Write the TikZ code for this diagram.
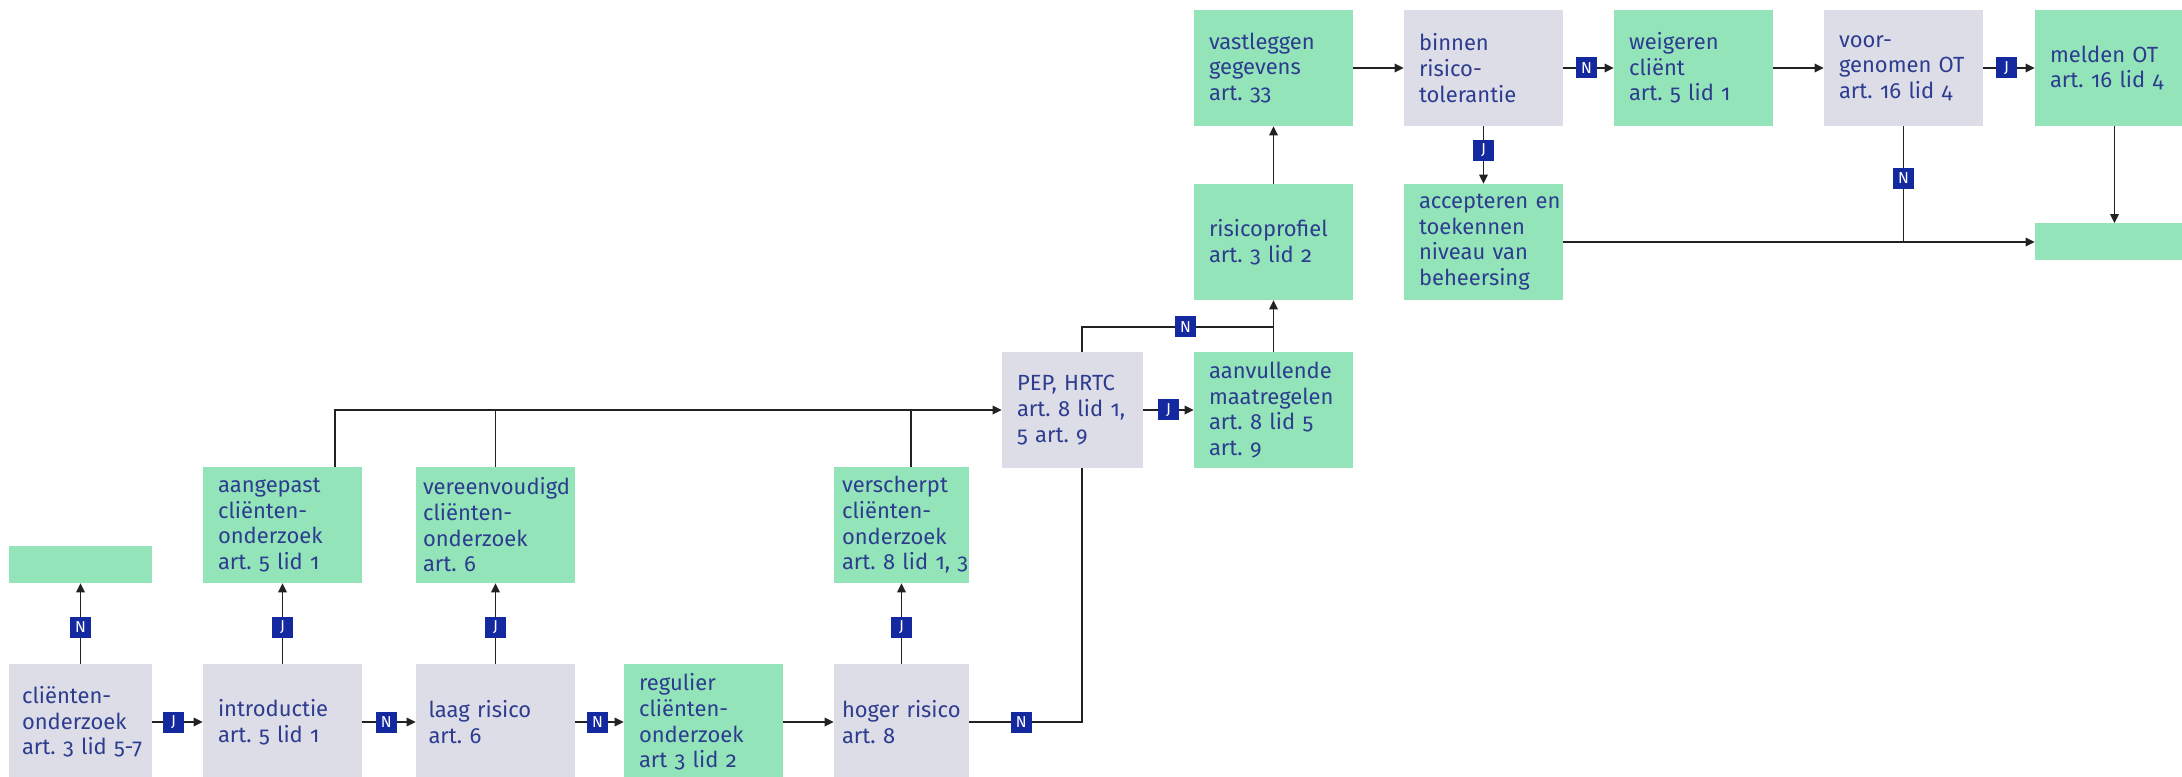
\documentclass[tikz,border=0pt]{standalone}
\usepackage{fontspec}
\setmainfont{Fira Sans}[Numbers=OldStyle]
\usetikzlibrary{arrows.meta}

\definecolor{grijsvak}{HTML}{DDDDE8}
\definecolor{groenvak}{HTML}{93E5B9}
\definecolor{tekstblauw}{HTML}{2D3C8E}
\definecolor{jnblauw}{HTML}{1428A0}
\definecolor{lijnkleur}{HTML}{222222}

\tikzset{
  blok/.style={inner xsep=0.3cm, inner ysep=0pt, text width=2.58cm, minimum height=2.32cm,
    align=left, text=tekstblauw, font=\fontsize{12.5}{14.6}\selectfont\frenchspacing},
  grijs/.style={blok, fill=grijsvak},
  groen/.style={blok, fill=groenvak},
  leeg/.style={groen, minimum height=0.74cm},
  jn/.style={fill=jnblauw, text=white, minimum size=0.42cm, inner sep=0pt,
    font=\fontsize{9}{9}\selectfont},
  lijntje/.style={draw=lijnkleur, line width=1pt},
  pijl/.style={lijntje, ->}
}

\begin{document}
\begin{tikzpicture}[>={Triangle[length=0.18cm,width=0.17cm]}]
    \useasboundingbox (0,0) rectangle (43.64,-15.54);
    \clip (0,0) rectangle (43.64,-15.54);

    % onderste rij
    \node[grijs, text width=2.34cm, inner xsep=0.26cm] (clo) at (1.61,-14.44) {cliënten-\\onderzoek\\\mbox{art. 3 lid 5-7}};
    \node[grijs] (intro) at (5.65,-14.44) {introductie\\art.~5~lid~1};
    \node[grijs, text width=2.68cm, inner xsep=0.25cm] (laag) at (9.91,-14.44) {laag~risico\\art.~6};
    \node[groen] (regulier) at (14.07,-14.44) {regulier\\cliënten-\\onderzoek\\art~3~lid~2};
    \node[grijs, text width=2.38cm, inner xsep=0.16cm] (hoger) at (18.03,-14.44) {hoger~risico\\art.~8};

    % tweede rij
    \node[leeg, text width=2.26cm] (leeg1) at (1.61,-11.29) {};
    \node[groen] (aangepast) at (5.65,-10.5) {aangepast\\cliënten-\\onderzoek\\art.~5~lid~1};
    \node[groen, text width=2.9cm, inner xsep=0.14cm] (vereenv) at (9.91,-10.5) {vereenvoudigd\\cliënten-\\onderzoek\\art.~6};
    \node[groen, text width=2.38cm, inner xsep=0.16cm] (verscherpt) at (18.03,-10.5) {verscherpt\\cliënten-\\onderzoek\\art.~8~lid~1,~3};

    % midden
    \node[grijs, text width=2.22cm] (pep) at (21.45,-8.2) {PEP,~HRTC\\art.~8~lid~1,\\5~art.~9};
    \node[groen] (aanvullend) at (25.47,-8.2) {aanvullende\\maatregelen\\art.~8~lid~5\\art.~9};
    \node[groen] (risprof) at (25.47,-4.84) {risicoprofiel\\art.~3~lid~2};
    \node[groen] (accept) at (29.67,-4.84) {accepteren~en\\toekennen\\niveau~van\\beheersing};
    \node[leeg] (leeg2) at (42.29,-4.84) {};

    % bovenste rij
    \node[groen] (vastleggen) at (25.47,-1.36) {vastleggen\\gegevens\\art.~33};
    \node[grijs] (binnen) at (29.67,-1.36) {binnen\\risico-\\tolerantie};
    \node[groen] (weigeren) at (33.87,-1.36) {weigeren\\cliënt\\art.~5~lid~1};
    \node[grijs] (voorgen) at (38.07,-1.36) {voor-\\genomen~OT\\art.~16~lid~4};
    \node[groen] (melden) at (42.29,-1.36) {melden~OT\\art.~16~lid~4};

    % verbindingen onder
    \draw[pijl] (clo) -- node[jn, pos=.42] (j1) {J} (intro);
    \draw[pijl] (intro) -- node[jn, pos=.45] (n1) {N} (laag);
    \draw[pijl] (laag) -- node[jn, pos=.46] (n2) {N} (regulier);
    \draw[pijl] (regulier) -- (hoger);
    \draw[pijl] (clo) -- node[jn, pos=.45] (n0) {N} (leeg1);
    \draw[pijl] (intro) -- node[jn, pos=.45] (j2) {J} (aangepast);
    \draw[pijl] (laag) -- node[jn, pos=.45] (j3) {J} (vereenv);
    \draw[pijl] (hoger) -- node[jn, pos=.45] (j4) {J} (verscherpt);

    % naar PEP
    \draw[pijl] ([xshift=1.05cm]aangepast.north) |- (pep.west);
    \draw[lijntje] (vereenv.north) -- (vereenv.north |- pep.west);
    \draw[lijntje] ([xshift=0.19cm]verscherpt.north) -- ([xshift=0.19cm]verscherpt.north |- pep.west);
    \draw[lijntje] (hoger.east) -| node[jn, pos=.23] (n3) {N} ([xshift=0.19cm]pep.south);

    % verbindingen boven
    \coordinate (knik) at (25.47,-6.54);
    \draw[pijl] (pep) -- node[jn, pos=.5] (j5) {J} (aanvullend);
    \draw[pijl] (aanvullend) -- (risprof);
    \draw[lijntje] ([xshift=0.19cm]pep.north) |- node[jn, pos=.77] (n4) {N} (knik);
    \draw[pijl] (risprof) -- (vastleggen);
    \draw[pijl] (vastleggen) -- (binnen);
    \draw[pijl] (binnen) -- node[jn, pos=.46] (n5) {N} (weigeren);
    \draw[pijl] (weigeren) -- (voorgen);
    \draw[pijl] (voorgen) -- node[jn, pos=.45] (j6) {J} (melden);
    \draw[pijl] (binnen) -- node[jn, pos=.42] (j7) {J} (accept);
    \draw[pijl] (accept) -- (leeg2);
    \draw[lijntje] (voorgen) -- node[jn, pos=.45] (n6) {N} (voorgen.south |- accept.east);
    \draw[pijl] (melden) -- (leeg2);
\end{tikzpicture}
\end{document}
